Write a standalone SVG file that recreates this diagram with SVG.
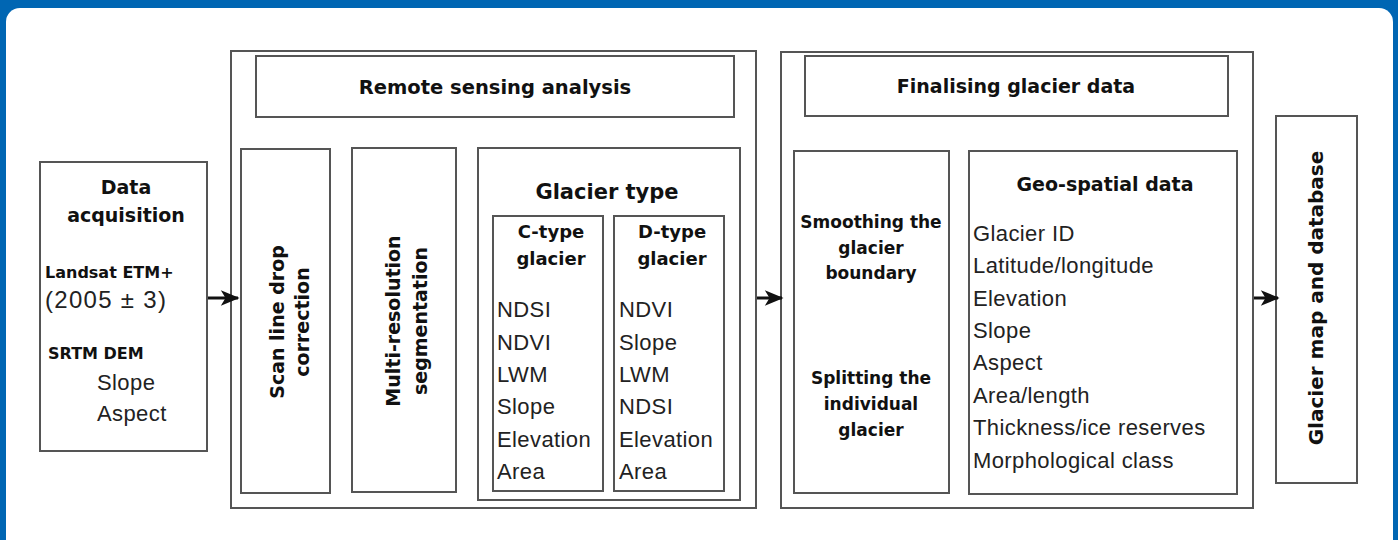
<svg xmlns="http://www.w3.org/2000/svg" width="1398" height="540" viewBox="0 0 1398 540">
<style>
.box{fill:#fff;stroke:#555;stroke-width:2}
.b{font-family:"DejaVu Sans","Liberation Sans",Arial,sans-serif;font-weight:bold;fill:#111}
.r{font-family:"Liberation Sans",Arial,sans-serif;fill:#222;font-size:22px;letter-spacing:0.4px}
.c{text-anchor:middle}
.conn{stroke:#111;stroke-width:3;fill:none}
</style>
<defs>
<marker id="ah" viewBox="0 0 12 10" refX="11" refY="5" markerWidth="6.5" markerHeight="5.2" markerUnits="strokeWidth" orient="auto">
<path d="M0,0 L12,5 L0,10 L3,5 Z" fill="#111"/>
</marker>
</defs>
<rect x="0" y="0" width="1398" height="540" fill="#0066b3"/>
<rect x="6" y="8" width="1387" height="560" rx="14" fill="#fff"/>

<g id="data-acquisition">
<rect class="box" x="40" y="162" width="167" height="289"/>
<text class="b c" x="126" y="194" font-size="19">Data</text>
<text class="b c" x="126" y="222" font-size="19">acquisition</text>
<text class="b" x="45" y="278" font-size="16">Landsat ETM+</text>
<text class="r" x="45" y="308" style="font-size:24px;letter-spacing:1.3px">(2005 ± 3)</text>
<text class="b" x="48" y="359" font-size="16">SRTM DEM</text>
<text class="r" x="97" y="390">Slope</text>
<text class="r" x="97" y="421">Aspect</text>
</g>

<g id="remote-sensing">
<rect class="box" x="231" y="51" width="525" height="457"/>
<rect class="box" x="256" y="56" width="478" height="61"/>
<text class="b c" x="495" y="94" font-size="19.5">Remote sensing analysis</text>
</g>

<g id="scan-line">
<rect class="box" x="241" y="149" width="89" height="344"/>
<text class="b c" font-size="19" transform="translate(284,322) rotate(-90)"><tspan x="0" y="0">Scan line drop</tspan><tspan x="0" y="25">correction</tspan></text>
</g>

<g id="multi-resolution">
<rect class="box" x="352" y="148" width="104" height="344"/>
<text class="b c" font-size="19" transform="translate(400,321) rotate(-90)"><tspan x="0" y="0">Multi-resolution</tspan><tspan x="0" y="27">segmentation</tspan></text>
</g>

<g id="glacier-type">
<rect class="box" x="478" y="148" width="262" height="352"/>
<text class="b c" x="607" y="199" font-size="21">Glacier type</text>
</g>

<g id="c-type">
<rect class="box" x="493" y="216" width="110" height="275"/>
<text class="b c" x="551" y="238" font-size="18">C-type</text>
<text class="b c" x="551" y="265" font-size="18">glacier</text>
<text class="r" x="497" y="317">NDSI</text>
<text class="r" x="497" y="350">NDVI</text>
<text class="r" x="497" y="382">LWM</text>
<text class="r" x="497" y="414">Slope</text>
<text class="r" x="497" y="447">Elevation</text>
<text class="r" x="497" y="479">Area</text>
</g>

<g id="d-type">
<rect class="box" x="614" y="216" width="110" height="275"/>
<text class="b c" x="672" y="238" font-size="18">D-type</text>
<text class="b c" x="672" y="265" font-size="18">glacier</text>
<text class="r" x="619" y="317">NDVI</text>
<text class="r" x="619" y="350">Slope</text>
<text class="r" x="619" y="382">LWM</text>
<text class="r" x="619" y="414">NDSI</text>
<text class="r" x="619" y="447">Elevation</text>
<text class="r" x="619" y="479">Area</text>
</g>

<g id="finalising">
<rect class="box" x="781" y="52" width="472" height="456"/>
<rect class="box" x="805" y="56" width="423" height="60"/>
<text class="b c" x="1016" y="93" font-size="19">Finalising glacier data</text>
</g>

<g id="smoothing">
<rect class="box" x="794" y="151" width="155" height="342"/>
<text class="b c" x="871" y="228" font-size="17">Smoothing the</text>
<text class="b c" x="871" y="254" font-size="17">glacier</text>
<text class="b c" x="871" y="279" font-size="17">boundary</text>
<text class="b c" x="871" y="384" font-size="17">Splitting the</text>
<text class="b c" x="871" y="410" font-size="17">individual</text>
<text class="b c" x="871" y="436" font-size="17">glacier</text>
</g>

<g id="geo-spatial">
<rect class="box" x="969" y="151" width="268" height="343"/>
<text class="b c" x="1105" y="191" font-size="19">Geo-spatial data</text>
<text class="r" x="973" y="241">Glacier ID</text>
<text class="r" x="973" y="273">Latitude/longitude</text>
<text class="r" x="973" y="306">Elevation</text>
<text class="r" x="973" y="338">Slope</text>
<text class="r" x="973" y="370">Aspect</text>
<text class="r" x="973" y="403">Area/length</text>
<text class="r" x="973" y="435">Thickness/ice reserves</text>
<text class="r" x="973" y="468">Morphological class</text>
</g>

<g id="glacier-map">
<rect class="box" x="1276" y="116" width="81" height="367"/>
<text class="b c" font-size="20" transform="translate(1323,298) rotate(-90)">Glacier map and database</text>
</g>

<g id="connectors">
<line class="conn" x1="208" y1="298" x2="238" y2="298" marker-end="url(#ah)"/>
<line class="conn" x1="757" y1="298" x2="782" y2="298" marker-end="url(#ah)"/>
<line class="conn" x1="1254" y1="298" x2="1278" y2="298" marker-end="url(#ah)"/>
</g>
</svg>
